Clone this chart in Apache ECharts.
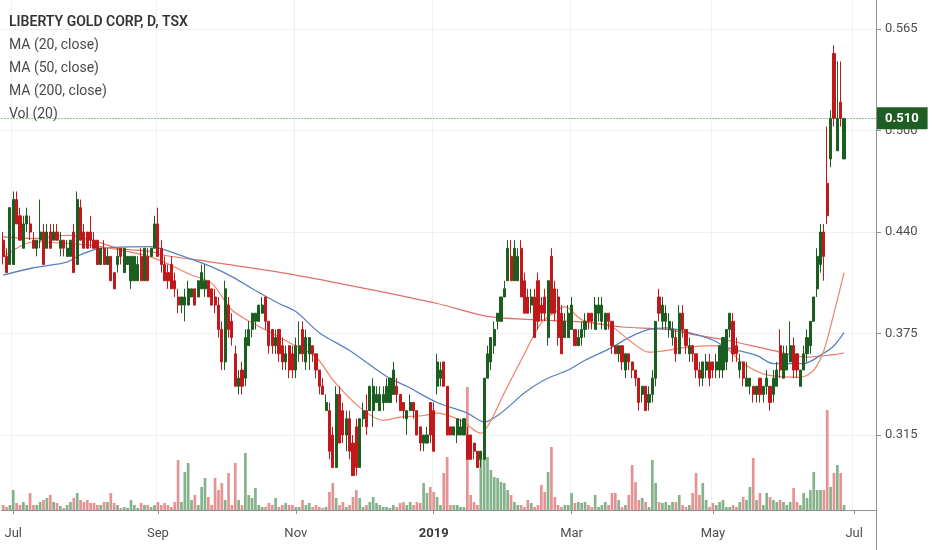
<!DOCTYPE html>
<html><head><meta charset="utf-8">
<script src="https://cdn.jsdelivr.net/npm/echarts@6/dist/echarts.min.js"></script>
<style>html,body{margin:0;padding:0;background:#fff}#c{width:932px;height:550px}</style>
</head><body><div id="c"></div>
<script>
// ---- data ----
const firstDay = '2018-06-27', lastDay = '2019-07-10';
const holidays = ['2018-07-02','2018-08-06','2018-09-03','2018-10-08','2018-12-25','2018-12-26','2019-01-01','2019-02-18','2019-04-19','2019-05-20','2019-07-01'];
// [open, close, low, high]
const candles = [
[.435,.425,.42,.44],[.425,.415,.415,.43],[.42,.455,.42,.455],[.42,.46,.42,.465],[.46,.445,.445,.465],
[.45,.435,.435,.455],[.43,.445,.43,.45],[.445,.45,.44,.455],[.445,.44,.435,.45],[.435,.43,.43,.44],
[.43,.435,.425,.435],[.435,.44,.43,.46],[.44,.42,.42,.445],[.43,.44,.43,.445],[.44,.43,.43,.445],
[.435,.44,.435,.445],[.44,.435,.435,.445],[.43,.435,.425,.44],[.435,.43,.425,.435],[.425,.43,.425,.435],
[.425,.435,.425,.435],[.44,.415,.415,.445],[.42,.46,.42,.465],[.455,.435,.435,.46],[.44,.43,.43,.445],
[.44,.43,.43,.44],[.44,.435,.43,.45],[.435,.43,.43,.44],[.435,.42,.42,.435],[.42,.43,.42,.43],
[.43,.42,.42,.435],[.42,.425,.42,.43],[.425,.41,.41,.425],[.415,.405,.405,.415],[.42,.425,.415,.43],
[.43,.425,.42,.43],[.415,.43,.415,.43],[.42,.425,.42,.425],[.41,.425,.405,.425],[.41,.425,.41,.425],
[.41,.42,.41,.425],[.425,.41,.41,.43],[.41,.43,.41,.43],
[.425,.41,.41,.43],[.425,.43,.425,.43],[.43,.445,.43,.45],[.445,.425,.425,.455],[.43,.42,.415,.435],
[.42,.41,.41,.425],[.415,.41,.405,.42],[.42,.405,.405,.425],[.41,.405,.40,.415],[.40,.395,.39,.405],
[.395,.40,.39,.40],[.395,.40,.385,.405],[.395,.405,.395,.41],[.40,.405,.40,.405],[.405,.395,.395,.405],
[.40,.41,.40,.41],[.405,.415,.405,.42],[.405,.41,.40,.42],[.41,.40,.40,.41],[.405,.395,.395,.405],
[.40,.395,.39,.405],[.395,.38,.375,.40],[.38,.36,.355,.385],[.36,.405,.355,.41],[.395,.38,.375,.40],
[.385,.375,.37,.39],[.365,.345,.345,.37],[.345,.35,.34,.355],[.355,.345,.34,.36],[.35,.375,.345,.38],
[.37,.38,.37,.385],[.38,.39,.375,.39],[.385,.39,.38,.39],[.385,.395,.385,.395],[.39,.395,.39,.40],
[.40,.385,.38,.40],[.385,.37,.365,.385],[.38,.37,.365,.38],[.37,.375,.365,.38],[.38,.365,.36,.38],
[.37,.36,.355,.375],[.36,.365,.355,.37],[.37,.355,.35,.37],[.365,.355,.35,.37],
[.355,.37,.35,.375],[.365,.37,.36,.385],[.38,.365,.36,.385],[.36,.375,.355,.38],[.365,.375,.355,.375],
[.37,.365,.36,.37],[.365,.355,.35,.365],[.355,.345,.34,.355],[.345,.34,.34,.35],[.33,.335,.33,.34],
[.33,.305,.30,.335],[.315,.295,.295,.32],[.295,.34,.295,.345],[.34,.31,.31,.345],[.33,.315,.31,.335],
[.315,.325,.305,.33],[.325,.305,.30,.33],[.31,.29,.29,.315],[.32,.295,.29,.325],[.295,.325,.295,.325],
[.325,.33,.32,.335],[.33,.32,.315,.34],[.33,.345,.33,.345],[.33,.345,.32,.35],[.335,.34,.335,.345],
[.33,.34,.33,.345],[.335,.34,.33,.345],[.335,.345,.335,.35],[.335,.35,.335,.35],[.34,.355,.34,.36],
[.345,.34,.335,.35],[.34,.33,.33,.34],[.335,.33,.325,.335],[.325,.33,.315,.33],[.33,.335,.33,.34],
[.335,.33,.325,.335],[.33,.315,.315,.33],[.32,.31,.305,.32],[.31,.315,.305,.315],[.31,.315,.31,.32],
[.335,.315,.31,.335],[.33,.305,.305,.335],
[.345,.36,.34,.365],[.35,.355,.345,.36],[.36,.345,.345,.36],[.345,.315,.315,.345],[.32,.315,.315,.32],
[.315,.32,.315,.32],[.315,.325,.31,.325],[.315,.32,.315,.325],[.315,.325,.315,.325],[.315,.30,.30,.32],
[.315,.30,.30,.315],[.31,.305,.30,.31],[.305,.295,.295,.305],[.30,.305,.295,.305],[.30,.35,.30,.35],
[.35,.365,.35,.37],[.36,.375,.355,.375],[.37,.38,.365,.385],[.385,.39,.38,.39],[.385,.40,.385,.40],
[.40,.405,.40,.41],[.41,.43,.41,.435],[.425,.41,.41,.435],[.41,.43,.41,.435],[.41,.425,.41,.43],
[.43,.40,.40,.435],[.41,.39,.39,.415],[.40,.39,.39,.405],[.395,.40,.39,.405],[.40,.375,.375,.405],
[.41,.385,.38,.415],[.395,.39,.385,.40],[.40,.39,.385,.405],[.375,.41,.37,.41],[.425,.39,.39,.43],
[.405,.39,.385,.41],[.40,.375,.37,.405],[.39,.365,.365,.395],[.375,.385,.375,.39],[.375,.39,.375,.395],
[.38,.395,.38,.40],[.38,.37,.37,.38],[.37,.375,.37,.38],
[.375,.38,.37,.385],[.38,.385,.375,.39],[.39,.385,.38,.39],[.39,.385,.38,.39],[.38,.395,.38,.40],
[.39,.395,.385,.40],[.385,.395,.38,.40],[.38,.39,.38,.39],[.39,.385,.38,.39],[.385,.37,.365,.385],
[.37,.365,.365,.37],[.365,.37,.36,.37],[.37,.36,.355,.37],[.355,.365,.35,.365],[.365,.36,.355,.365],
[.36,.355,.35,.36],[.355,.35,.345,.355],[.35,.335,.33,.35],[.34,.345,.335,.345],[.345,.33,.33,.345],
[.335,.34,.33,.345],[.34,.35,.335,.355],[.35,.385,.345,.385],[.40,.39,.385,.405],[.385,.395,.38,.40],
[.385,.39,.38,.395],[.38,.385,.375,.39],[.375,.38,.37,.385],[.375,.365,.36,.38],[.365,.39,.365,.395],
[.39,.38,.375,.395],[.38,.37,.365,.38],[.365,.37,.36,.375],[.37,.365,.36,.37],[.365,.355,.35,.365],
[.355,.35,.345,.36],[.35,.36,.345,.36],[.355,.36,.35,.365],[.36,.35,.345,.365],[.36,.355,.35,.36],
[.355,.36,.35,.365],[.355,.37,.35,.37],[.355,.375,.35,.375],
[.36,.38,.355,.38],[.38,.39,.375,.39],[.385,.365,.36,.39],[.37,.365,.36,.375],[.355,.36,.35,.365],
[.36,.35,.345,.36],[.345,.35,.345,.36],[.345,.35,.34,.35],[.345,.34,.335,.345],[.34,.345,.335,.345],
[.35,.34,.335,.35],[.34,.345,.335,.345],[.345,.35,.34,.355],[.345,.335,.33,.345],[.34,.35,.335,.355],
[.345,.355,.345,.36],[.37,.355,.35,.38],[.35,.365,.35,.37],[.355,.365,.355,.37],[.36,.37,.36,.385],
[.37,.355,.35,.375],[.365,.355,.35,.365],[.345,.355,.345,.355],[.355,.365,.355,.37],[.365,.375,.36,.38],
[.37,.385,.365,.385],[.385,.40,.385,.40],[.405,.425,.40,.43],[.42,.44,.415,.445],[.44,.425,.41,.445],
[.47,.45,.445,.505],[.485,.51,.48,.515],[.55,.51,.505,.555],[.49,.51,.49,.545],[.52,.51,.505,.545],
[.485,.51,.485,.51]
];
// volume, thousands of shares
const volumes = [
50,30,50,200,70,50,80,50,170,50,50,80,100,120,150,80,70,40,20,50,80,120,170,100,80,100,70,70,50,50,80,80,170,70,50,20,30,20,100,50,20,70,50,
50,30,50,80,50,70,50,30,80,500,80,380,470,100,150,50,230,320,130,50,320,200,270,100,370,50,470,100,50,570,150,120,220,50,30,30,70,50,120,30,50,70,50,50,
30,30,100,50,70,30,50,30,20,30,180,270,120,50,80,30,50,130,200,120,30,50,80,130,70,50,30,30,20,50,30,70,80,50,80,50,80,70,270,170,230,180,
130,50,370,530,50,50,50,30,30,1230,150,80,50,570,530,530,400,330,320,280,270,200,150,80,50,50,30,100,70,30,50,250,180,380,630,130,50,30,50,50,170,70,80,
70,80,50,30,150,30,50,80,50,170,170,100,30,50,150,450,280,100,120,80,30,500,270,80,70,80,50,80,80,150,50,30,50,170,370,150,270,100,30,70,50,80,100,
30,30,50,30,80,130,100,230,520,100,170,50,170,130,100,80,100,80,50,80,220,80,50,170,120,200,380,200,200,200,1000,230,370,450,370,50
];
// moving averages: [bar index, value]
const ma20 = [[0,.4245],[9,.434],[19,.433],[29,.431],[44,.4245],[56,.4135],[62,.4085],[68,.392],[75,.383],[85,.372],[93,.363],[98,.349],[106,.332],[113,.324],[118,.326],[125,.327],[129,.3285],[136,.324],[142,.316],[145,.324],[149,.341],[154,.361],[160,.384],[165,.392],[167,.394],[172,.386],[181,.3815],[186,.3735],[192,.366],[197,.367],[203,.369],[211,.370],[215,.3685],[220,.359],[227,.352],[237,.3505],[241,.355],[244,.367],[247,.390],[250,.415]];
const ma50 = [[0,.4135],[9,.418],[19,.4215],[23,.426],[29,.430],[44,.431],[48,.429],[55,.424],[62,.4185],[68,.4125],[75,.404],[82,.396],[87,.391],[94,.378],[103,.367],[114,.351],[120,.345],[129,.335],[138,.3285],[143,.323],[148,.3285],[155,.341],[161,.349],[168,.355],[173,.361],[181,.369],[186,.375],[192,.380],[197,.381],[204,.378],[211,.3735],[215,.369],[224,.364],[229,.359],[238,.359],[244,.3655],[247,.370],[250,.378]];
const ma200 = [[0,.437],[9,.436],[19,.438],[28,.434],[34,.430],[44,.428],[47,.426],[62,.4215],[87,.4135],[107,.4055],[129,.396],[144,.388],[158,.386],[173,.3845],[184,.3815],[197,.380],[206,.3765],[215,.3735],[229,.367],[239,.363],[247,.3645],[250,.3655]];
const yTickValues = [0.315, 0.3775, 0.44, 0.5025, 0.565];
const yTickLabels = ['0.315', '0.375', '0.440', '0.500', '0.565'];
const lastPrice = 0.51;
const monthNames = ['Jan','Feb','Mar','Apr','May','Jun','Jul','Aug','Sep','Oct','Nov','Dec'];
const legendLines = ['LIBERTY GOLD CORP, D, TSX','MA (20, close)','MA (50, close)','MA (200, close)','Vol (20)'];

// ---- trading-day categories ----
const cats = [];
(function(){
  let t = Date.parse(firstDay + 'T00:00:00Z'); const end = Date.parse(lastDay + 'T00:00:00Z');
  while (t <= end) { const d = new Date(t); const wd = d.getUTCDay(); const s = d.toISOString().slice(0,10);
    if (wd !== 0 && wd !== 6 && holidays.indexOf(s) < 0) cats.push(s); t += 86400000; }
})();
const isMark = cats.map((s,i) => i > 0 && s.slice(0,7) !== cats[i-1].slice(0,7) && (parseInt(s.slice(5,7),10) % 2 === 1));
const markFn = (i) => isMark[i];

const UP = '#1b5e20', DOWN = '#c2181b';
const VUP = 'rgba(80,145,88,0.7)', VDOWN = 'rgba(218,100,100,0.7)';
const volData = volumes.map((v,i) => ({value: v, itemStyle: {color: candles[i][1] >= candles[i][0] ? VUP : VDOWN}}));
const FONT = 'Roboto, "Open Sans", sans-serif';

const chart = echarts.init(document.getElementById('c'), null, {renderer: 'canvas'});
chart.setOption({
  animation: false,
  backgroundColor: '#ffffff',
  grid: {left: 1.5, right: 56, top: 0, bottom: 40, containLabel: false},
  xAxis: {
    type: 'category', data: cats, boundaryGap: true,
    axisLine: {show: true, lineStyle: {color: '#8d9096'}},
    axisTick: {show: true, interval: markFn, length: 4, alignWithLabel: true, lineStyle: {color: '#8d9096'}},
    axisLabel: {interval: markFn, margin: 17, color: '#4f4f4f', fontSize: 13, fontFamily: FONT,
      formatter: (v) => { const m = parseInt(v.slice(5,7),10); return m === 1 ? '{y|' + v.slice(0,4) + '}' : monthNames[m-1]; },
      rich: {y: {fontSize: 13, fontWeight: 'bold', color: '#3a3a3a', fontFamily: FONT}}},
    splitLine: {show: true, interval: markFn, lineStyle: {color: '#edf1f7', width: 1}}
  },
  yAxis: [{
    type: 'value', position: 'right', min: 0.2688, max: 0.5829, scale: true,
    axisLine: {show: true, lineStyle: {color: '#8d9096'}},
    axisTick: {show: true, length: 5, customValues: yTickValues, lineStyle: {color: '#8d9096'}},
    axisLabel: {customValues: yTickValues, margin: 9, color: '#4f4f4f', fontSize: 13, fontFamily: FONT,
      formatter: (v) => { for (let k = 0; k < yTickValues.length; k++) if (Math.abs(yTickValues[k]-v) < 1e-6) return yTickLabels[k]; return ''; }},
    splitLine: {show: true, lineStyle: {color: '#edf1f7', width: 1}}
  }, {
    type: 'value', min: 0, max: 5100, show: false, splitLine: {show: false}
  }],
  series: [
    {type: 'bar', name: 'Vol', yAxisIndex: 1, data: volData, barWidth: '80%', z: 1, silent: true},
    {type: 'line', name: 'MA200', data: ma200, showSymbol: false, smooth: 0.3, z: 2, lineStyle: {color: '#e0706b', width: 1.2}, silent: true},
    {type: 'line', name: 'MA50', data: ma50, showSymbol: false, smooth: 0.3, z: 2, lineStyle: {color: '#5a82bf', width: 1.3}, silent: true},
    {type: 'line', name: 'MA20', data: ma20, showSymbol: false, smooth: 0.3, z: 2, lineStyle: {color: '#f08266', width: 1.2}, silent: true},
    {type: 'candlestick', name: 'LGD', data: candles, barWidth: '78%', z: 3, silent: true,
      itemStyle: {color: UP, color0: DOWN, borderColor: UP, borderColor0: DOWN, borderWidth: 1},
      markLine: {symbol: 'none', silent: true, animation: false, data: [{yAxis: lastPrice}],
        lineStyle: {color: '#2e7d32', type: [1,2], width: 1},
        label: {show: true, position: 'end', distance: 1, formatter: () => lastPrice.toFixed(3),
          backgroundColor: '#1f5e22', color: '#ffffff', fontSize: 13, fontWeight: 'bold', fontFamily: FONT,
          padding: [5, 9, 4, 8]}}}
  ],
  graphic: [
    {type: 'line', shape: {x1: 876.5, y1: 510, x2: 876.5, y2: 550}, style: {stroke: '#8d9096', lineWidth: 1}, z: 10},
  ].concat(legendLines.map((t, k) => ({
    type: 'text', left: 9, top: 15 + k * 23, z: 20,
    style: {text: t, fill: k === 0 ? '#333333' : '#4a4a4a', font: (k === 0 ? '600 ' : '400 ') + '14px ' + FONT}
  })))
});
</script></body></html>
